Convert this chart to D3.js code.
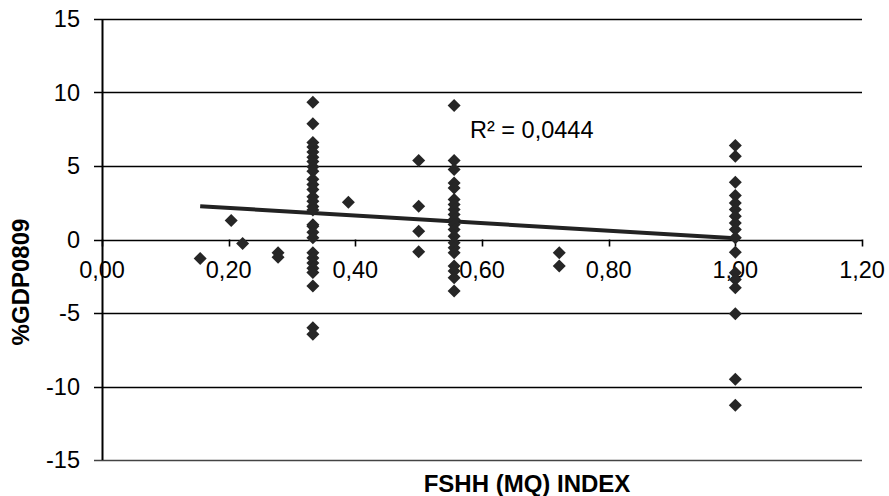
<!DOCTYPE html>
<html>
<head>
<meta charset="utf-8">
<script src="https://cdn.jsdelivr.net/npm/d3@7"></script>
<style>
  html, body { margin: 0; padding: 0; background: #fff; }
  svg { display: block; font-family: "Liberation Sans", Arial, sans-serif; }
</style>
</head>
<body>
<svg id="chart" width="889" height="496"></svg>
<script>
// ---- Data ----
const fshhIndex = [
  0.155, 0.204, 0.222, 0.278, 0.278,
  0.333, 0.333, 0.333, 0.333, 0.333, 0.333, 0.333, 0.333, 0.333, 0.333,
  0.333, 0.333, 0.333, 0.333, 0.333, 0.333, 0.333, 0.333, 0.333, 0.333,
  0.333, 0.333, 0.333, 0.333, 0.333, 0.333, 0.333, 0.333,
  0.389,
  0.5, 0.5, 0.5, 0.5,
  0.556, 0.556, 0.556, 0.556, 0.556, 0.556, 0.556, 0.556, 0.556, 0.556,
  0.556, 0.556, 0.556, 0.556, 0.556, 0.556, 0.556, 0.556, 0.556, 0.556,
  0.722, 0.722,
  1.0, 1.0, 1.0, 1.0, 1.0, 1.0, 1.0, 1.0, 1.0, 1.0, 1.0, 1.0, 1.0, 1.0, 1.0, 1.0, 1.0
];
const gdp0809 = [
  -1.29, 1.29, -0.27, -0.90, -1.20,
  9.33, 7.88, 6.60, 6.30, 5.95, 5.60, 5.30, 4.95, 4.65, 4.10,
  3.75, 3.40, 2.90, 2.60, 2.25, 2.00, 1.00, 0.90, 0.50, 0.12,
  -0.90, -1.25, -1.60, -1.95, -2.25, -3.17, -6.00, -6.45,
  2.54,
  5.37, 2.26, 0.56, -0.84,
  9.12, 5.37, 4.76, 3.85, 3.51, 2.72, 2.38, 2.04, 1.70, 1.36,
  1.02, 0.68, 0.22, -0.22, -0.56, -0.90, -1.81, -2.15, -2.60, -3.51,
  -0.90, -1.81,
  6.39, 5.66, 3.90, 2.99, 2.49, 2.04, 1.58, 1.13, 0.68, 0.12, -0.86, -2.26, -2.72, -3.28, -5.05, -9.51, -11.28
];
// Linear trend line as shown in the picture
const trendSlope = -2.58;
const trendIntercept = 2.66;
const rSquaredLabel = "R² = 0,0444";

const xTicks = [0, 0.2, 0.4, 0.6, 0.8, 1.0, 1.2];
const yTicks = [-15, -10, -5, 0, 5, 10, 15];
const xTitle = "FSHH (MQ) INDEX";
const yTitle = "%GDP0809";

// ---- Drawing ----
const svg = d3.select("#chart");
svg.append("rect").attr("width", 889).attr("height", 496).attr("fill", "#fff");

const x = d3.scaleLinear().domain([0, 1.2]).range([102, 862]);
const y = d3.scaleLinear().domain([-15, 15]).range([460, 19]);
const commaFmt = v => d3.format(".2f")(v).replace(".", ",");

// horizontal gridlines (with left tick extension)
svg.append("g").selectAll("line").data(yTicks).join("line")
  .attr("x1", x(0) - 8).attr("x2", x(1.2))
  .attr("y1", d => Math.round(y(d)) + 0.5).attr("y2", d => Math.round(y(d)) + 0.5)
  .attr("stroke", d => d === -15 ? "#444" : "#000").attr("stroke-width", 1.6);

// y tick labels
svg.append("g").selectAll("text").data(yTicks).join("text")
  .attr("x", 80).attr("y", d => y(d))
  .attr("text-anchor", "end").attr("dominant-baseline", "central")
  .attr("font-size", 23.5).attr("fill", "#000")
  .text(d => d);

// vertical axis line
svg.append("line")
  .attr("x1", x(0) + 0.5).attr("x2", x(0) + 0.5)
  .attr("y1", y(15)).attr("y2", y(-15))
  .attr("stroke", "#000").attr("stroke-width", 2);

// x axis ticks at y = 0
svg.append("g").selectAll("line").data(xTicks).join("line")
  .attr("x1", d => Math.round(x(d)) + 0.5).attr("x2", d => Math.round(x(d)) + 0.5)
  .attr("y1", y(0)).attr("y2", y(0) + 7)
  .attr("stroke", "#000").attr("stroke-width", 1.6);

// x tick labels
svg.append("g").selectAll("text").data(xTicks).join("text")
  .attr("x", d => x(d)).attr("y", y(0) + 38)
  .attr("text-anchor", "middle")
  .attr("font-size", 23.5).attr("fill", "#000")
  .text(d => commaFmt(d));

// trend line over data range
const xMin = d3.min(fshhIndex), xMax = d3.max(fshhIndex);
svg.append("line")
  .attr("x1", x(xMin)).attr("y1", y(trendIntercept + trendSlope * xMin))
  .attr("x2", x(xMax)).attr("y2", y(trendIntercept + trendSlope * xMax))
  .attr("stroke", "#222").attr("stroke-width", 4);

// points (diamonds)
const pts = fshhIndex.map((v, i) => [v, gdp0809[i]]);
const h = 6.5;
svg.append("g").selectAll("path").data(pts).join("path")
  .attr("transform", d => `translate(${x(d[0])},${y(d[1])})`)
  .attr("d", `M0,${-h}L${h},0L0,${h}L${-h},0Z`)
  .attr("fill", "#262626");

// R² label
svg.append("text")
  .attr("x", 470).attr("y", 138)
  .attr("font-size", 23.5).attr("fill", "#000")
  .text(rSquaredLabel);

// axis titles
svg.append("text")
  .attr("x", 527).attr("y", 492)
  .attr("text-anchor", "middle").attr("font-weight", "bold")
  .attr("font-size", 24).attr("fill", "#000")
  .text(xTitle);

svg.append("text")
  .attr("transform", "translate(29,282) rotate(-90)")
  .attr("text-anchor", "middle").attr("font-weight", "bold")
  .attr("font-size", 24).attr("fill", "#000")
  .text(yTitle);
</script>
</body>
</html>
